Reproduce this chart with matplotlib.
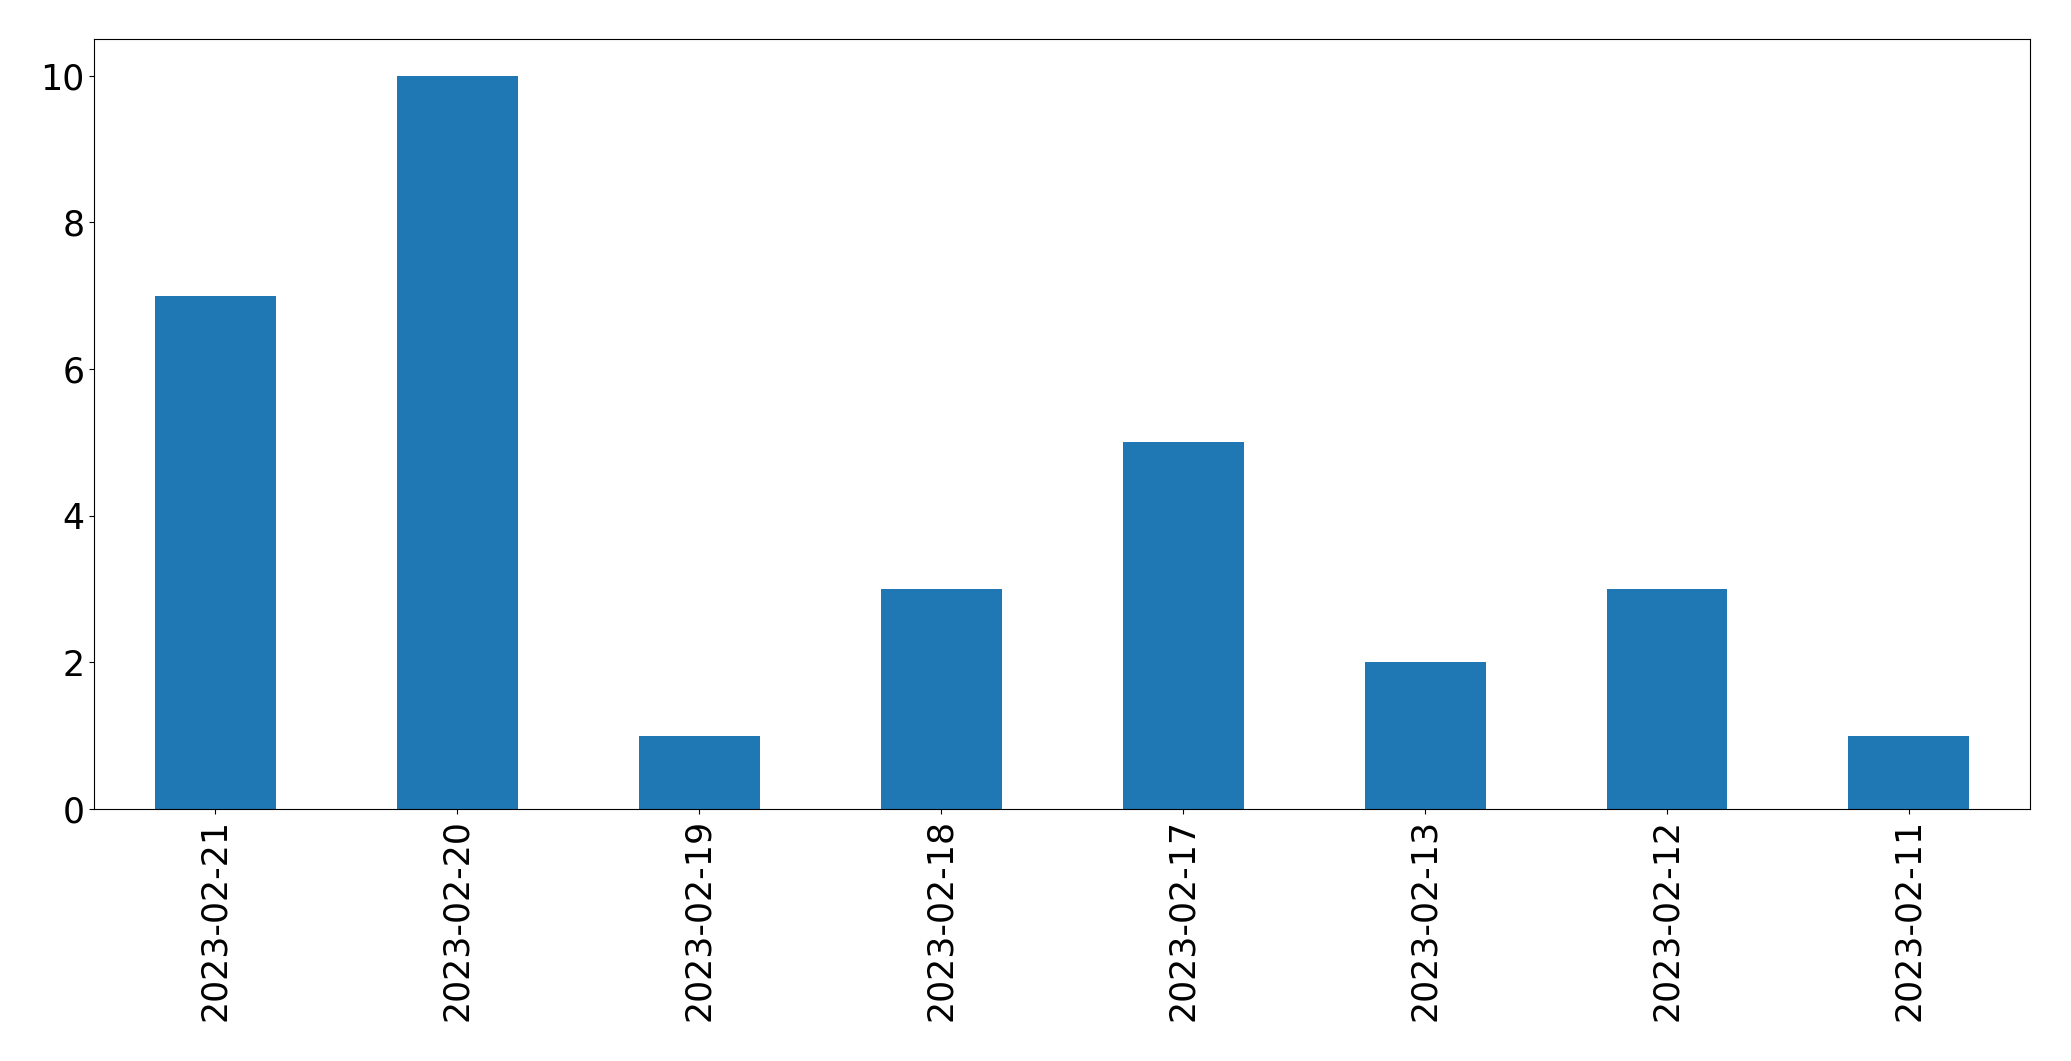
import matplotlib
matplotlib.use("Agg")
import matplotlib.pyplot as plt
import pandas as pd

# daily counts, newest first (as in the source)
dates = ["2023-02-21", "2023-02-20", "2023-02-19", "2023-02-18",
         "2023-02-17", "2023-02-13", "2023-02-12", "2023-02-11"]
counts = [7, 10, 1, 3, 5, 2, 3, 1]

s = pd.Series(counts, index=dates)

fig, ax = plt.subplots(figsize=(20.71, 10.61), dpi=100)
s.plot.bar(ax=ax, color="#1f77b4")

ax.tick_params(axis="both", labelsize=25)
ax.set_xlabel("")

fig.subplots_adjust(left=0.0454, right=0.9802, bottom=0.2375, top=0.9632)
fig.savefig("out.png", dpi=100)
